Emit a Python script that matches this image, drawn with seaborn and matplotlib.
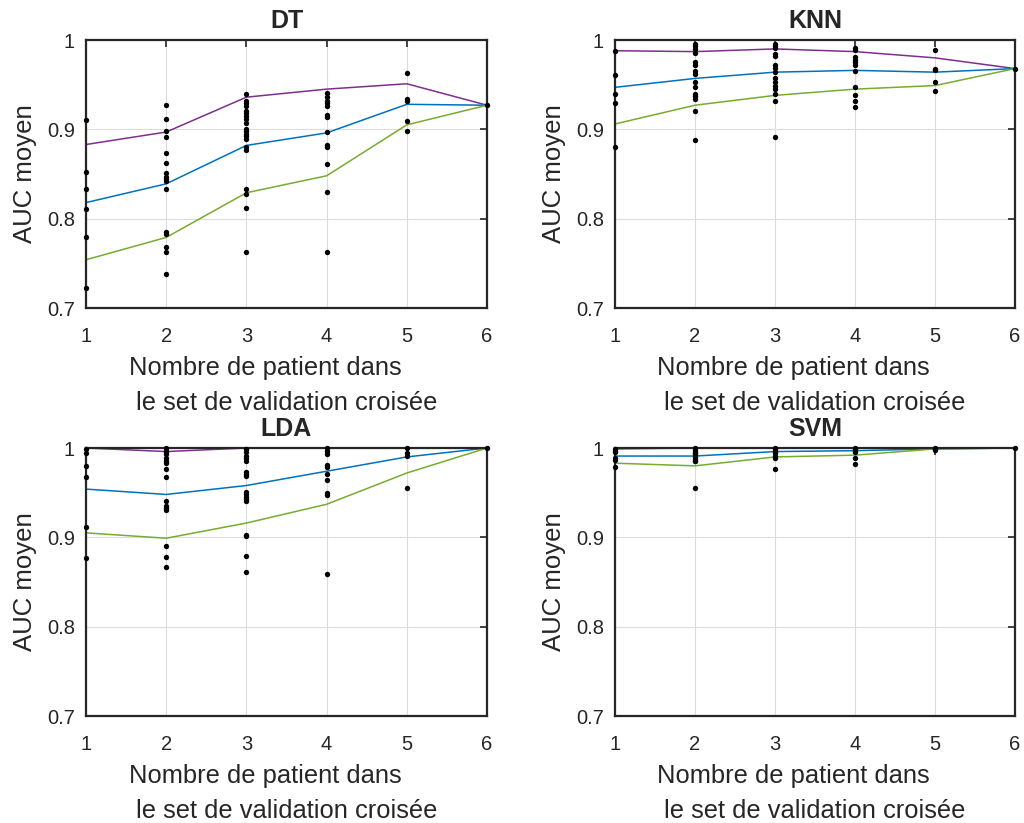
import numpy as np
import pandas as pd
import matplotlib
matplotlib.use('Agg')
import matplotlib.pyplot as plt
import seaborn as sns

sns.set_style('white')
plt.rcParams['font.family'] = ['Liberation Sans', 'DejaVu Sans']

# nombre de patients dans le set de validation
x_vals = [1, 2, 3, 4, 5, 6]

# AUC individuels (points noirs), une liste par valeur de x
dt_dots = [
    [0.911, 0.852, 0.833, 0.811, 0.780, 0.722],
    [0.927, 0.912, 0.898, 0.891, 0.874, 0.862, 0.851, 0.847, 0.844, 0.842,
     0.833, 0.785, 0.783, 0.768, 0.763, 0.738],
    [0.940, 0.932, 0.929, 0.926, 0.920, 0.918, 0.915, 0.912, 0.907, 0.900,
     0.898, 0.895, 0.893, 0.889, 0.880, 0.877, 0.833, 0.828, 0.812, 0.763],
    [0.941, 0.936, 0.932, 0.929, 0.926, 0.916, 0.914, 0.897, 0.882, 0.880,
     0.861, 0.830, 0.763],
    [0.963, 0.934, 0.932, 0.909, 0.898],
    [0.927],
]
knn_dots = [
    [0.988, 0.961, 0.939, 0.930, 0.880],
    [0.995, 0.993, 0.990, 0.986, 0.975, 0.972, 0.965, 0.962, 0.953, 0.947,
     0.940, 0.937, 0.934, 0.921, 0.888],
    [0.995, 0.993, 0.991, 0.984, 0.982, 0.972, 0.969, 0.964, 0.958, 0.953,
     0.949, 0.945, 0.939, 0.932, 0.891],
    [0.991, 0.989, 0.981, 0.978, 0.975, 0.972, 0.965, 0.947, 0.938, 0.932,
     0.925],
    [0.989, 0.968, 0.966, 0.953, 0.943],
    [0.968],
]
lda_dots = [
    [0.999, 0.994, 0.980, 0.968, 0.912, 0.877],
    [1.000, 0.997, 0.995, 0.993, 0.989, 0.986, 0.983, 0.976, 0.968, 0.941,
     0.935, 0.933, 0.931, 0.890, 0.878, 0.867],
    [0.999, 0.996, 0.991, 0.989, 0.986, 0.973, 0.971, 0.969, 0.951, 0.948,
     0.945, 0.943, 0.941, 0.903, 0.902, 0.879, 0.861],
    [1.000, 0.997, 0.993, 0.981, 0.979, 0.971, 0.964, 0.950, 0.947, 0.859],
    [1.000, 0.994, 0.991, 0.955],
    [1.000],
]
svm_dots = [
    [0.999, 0.997, 0.995, 0.989, 0.987, 0.979],
    [1.000, 0.998, 0.996, 0.994, 0.993, 0.990, 0.988, 0.986, 0.985, 0.955],
    [1.000, 0.999, 0.997, 0.996, 0.994, 0.991, 0.989, 0.976],
    [1.000, 0.999, 0.997, 0.996, 0.989, 0.982],
    [1.000, 0.999, 0.998],
    [1.000],
]

# courbes : haute (violet), moyenne (bleu), basse (vert)
dt_high = [0.883, 0.897, 0.936, 0.945, 0.951, 0.927]
dt_mean = [0.818, 0.839, 0.882, 0.896, 0.928, 0.927]
dt_low = [0.754, 0.779, 0.829, 0.848, 0.905, 0.927]

knn_high = [0.988, 0.987, 0.990, 0.987, 0.980, 0.968]
knn_mean = [0.947, 0.957, 0.964, 0.966, 0.964, 0.968]
knn_low = [0.906, 0.927, 0.938, 0.945, 0.949, 0.968]

lda_high = [1.000, 0.996, 1.000, 1.000, 1.000, 1.000]
lda_mean = [0.954, 0.948, 0.958, 0.974, 0.990, 1.000]
lda_low = [0.905, 0.899, 0.916, 0.937, 0.972, 1.000]

svm_high = [0.999, 1.000, 1.000, 1.000, 1.000, 1.000]
svm_mean = [0.991, 0.991, 0.996, 0.997, 0.999, 1.000]
svm_low = [0.983, 0.980, 0.990, 0.992, 0.999, 1.000]

titles = ['DT', 'KNN', 'LDA', 'SVM']
all_dots = [dt_dots, knn_dots, lda_dots, svm_dots]
all_lines = [(dt_high, dt_mean, dt_low), (knn_high, knn_mean, knn_low),
             (lda_high, lda_mean, lda_low), (svm_high, svm_mean, svm_low)]
couleurs = ['#7E2F8E', '#0072BD', '#77AC30']

fig = plt.figure(figsize=(10.24, 8.23), dpi=100)
W, H = 1024, 823
# positions des axes en pixels (gauche, haut, droite, bas)
boites = [(86, 40, 487, 308), (615, 40, 1015, 308),
          (86, 448, 487, 716), (615, 448, 1015, 716)]

for i, (titre, dots, lignes) in enumerate(zip(titles, all_dots, all_lines)):
    l, t, r, b = boites[i]
    ax = fig.add_axes([l / W, 1 - b / H, (r - l) / W, (b - t) / H])

    for ys, c in zip(lignes, couleurs):
        sns.lineplot(x=x_vals, y=ys, color=c, linewidth=1.1, ax=ax, zorder=2)

    df = pd.DataFrame([(x, v) for x, vals in zip(x_vals, dots) for v in vals],
                      columns=['x', 'auc'])
    sns.scatterplot(data=df, x='x', y='auc', color='black', s=15,
                    edgecolor='black', linewidth=0, ax=ax, zorder=4, clip_on=False)

    ax.set_xlim(1, 6)
    ax.set_ylim(0.7, 1.0)
    ax.set_xticks(x_vals)
    ax.set_yticks([0.7, 0.8, 0.9, 1.0])
    ax.set_yticklabels(['0.7', '0.8', '0.9', '1'])
    ax.grid(True, color='#dcdcdc', linewidth=0.8)
    ax.tick_params(direction='in', length=5, width=1.2, top=True, right=True,
                   labelsize=14.5, colors='#262626')
    ax.tick_params(axis='x', pad=14)
    ax.tick_params(axis='y', pad=8)
    for sp in ax.spines.values():
        sp.set_color('#262626')
        sp.set_linewidth(1.6)
        sp.set_zorder(3)
    ax.set_title(titre, fontsize=18, fontweight='bold', pad=9)
    ax.set_xlabel('Nombre de patient dans      \nle set de validation croisée',
                  fontsize=18.4, color='#262626', labelpad=7, linespacing=1.55)
    ax.set_ylabel('AUC moyen', fontsize=18.5, color='#262626', labelpad=7)

fig.savefig('out.png', dpi=100)
